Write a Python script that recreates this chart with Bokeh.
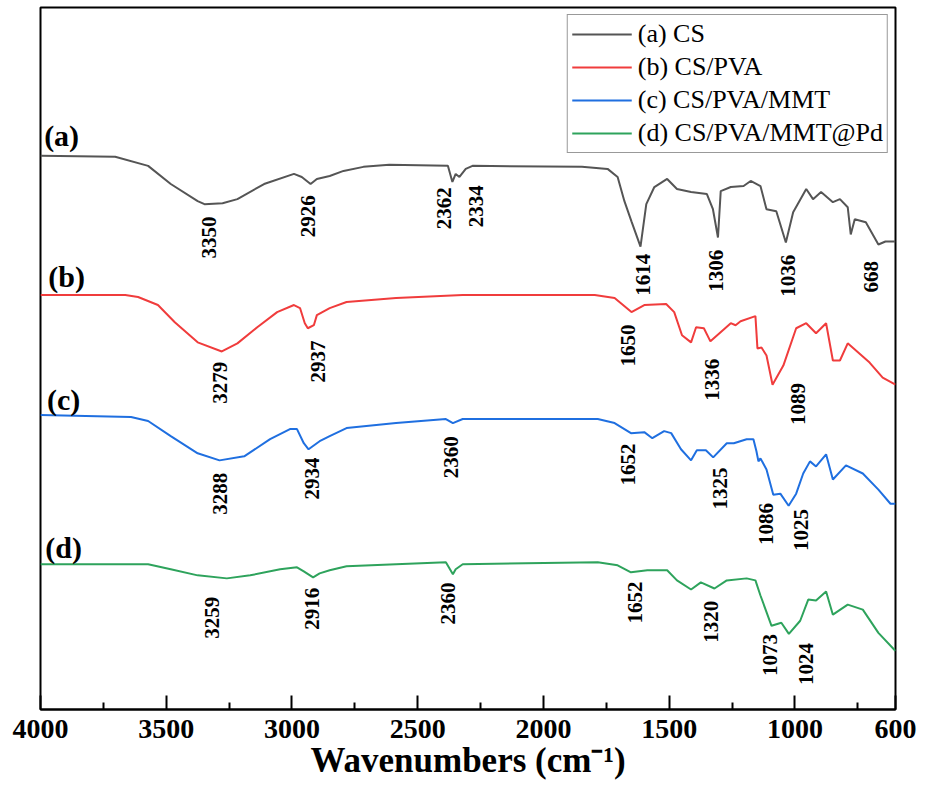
import numpy as np
from bokeh.plotting import figure
from bokeh.models import Range1d, FixedTicker, ColumnDataSource
from bokeh.core.properties import value
from bokeh.embed import file_html
from bokeh.resources import INLINE

# ---- data: wavenumber (cm-1) and offset transmittance (arb. units) ----
cs_wn = [4000, 3703, 3572, 3482, 3375, 3348, 3276, 3217, 3111, 2992, 2961, 2926, 2901, 2850, 2795,
         2716, 2613, 2380, 2362, 2349, 2334, 2309, 2282, 1847, 1745, 1705, 1678, 1650, 1614, 1591,
         1559, 1508, 1469, 1413, 1350, 1326, 1306, 1295, 1255, 1204, 1176, 1137, 1113, 1074, 1036,
         1007, 955, 928, 896, 849, 821, 790, 778, 762, 718, 668, 640, 600]
cs_t = [549, 548, 539, 521, 504, 501, 502, 506, 521, 531, 528, 521, 526, 529, 534,
        538, 540, 539, 523, 531, 528, 536, 539, 538, 536, 528, 504, 484, 459, 501,
        518, 526, 516, 513, 511, 496, 468, 514, 518, 519, 524, 519, 496, 494, 463,
        493, 516, 506, 513, 503, 506, 498, 471, 486, 483, 461, 464, 464]

pva_wn = [4000, 3663, 3612, 3533, 3466, 3375, 3279, 3217, 3138, 3059, 2992, 2968, 2949, 2937, 2913,
          2901, 2850, 2783, 2586, 2321, 1796, 1717, 1650, 1599, 1512, 1480, 1449, 1413, 1393, 1362,
          1336, 1255, 1236, 1216, 1157, 1149, 1133, 1113, 1089, 1046, 995, 955, 916, 876, 849,
          821, 790, 703, 651, 600]
pva_t = [411, 411, 409, 401, 384, 364, 355, 363, 379, 394, 401, 398, 383, 378, 381,
         391, 398, 404, 408, 411, 411, 408, 394, 401, 402, 394, 371, 364, 379, 378,
         365, 383, 381, 385, 390, 358, 359, 351, 322, 341, 378, 383, 373, 383, 346,
         346, 363, 344, 329, 322]

mmt_wn = [4000, 3640, 3572, 3482, 3375, 3288, 3190, 3087, 3008, 2980, 2953, 2934, 2890, 2850, 2783,
          2586, 2388, 2360, 2321, 1784, 1717, 1652, 1599, 1567, 1520, 1492, 1453, 1413, 1390, 1354,
          1325, 1271, 1243, 1192, 1165, 1153, 1145, 1137, 1113, 1086, 1058, 1025, 995, 967, 940,
          916, 876, 849, 797, 730, 668, 620, 600]
mmt_t = [292, 290, 286, 271, 254, 247, 251, 268, 278, 278, 264, 258, 266, 271, 279,
         284, 288, 284, 288, 288, 284, 274, 275, 269, 276, 274, 258, 247, 257, 257,
         250, 264, 264, 268, 268, 256, 246, 249, 238, 213, 214, 202, 214, 234, 246,
         241, 253, 228, 242, 234, 218, 204, 204]

pd_wn = [4000, 3572, 3482, 3375, 3259, 3166, 3047, 2980, 2953, 2916, 2890, 2850, 2783, 2586, 2388,
         2360, 2349, 2321, 1784, 1705, 1652, 1587, 1508, 1469, 1413, 1374, 1320, 1271, 1192, 1157,
         1137, 1093, 1054, 1024, 979, 947, 916, 876, 849, 790, 730, 668, 600]
pd_t = [144, 144, 139, 133, 130, 133, 139, 141, 137, 131, 135, 138, 142, 144, 146,
        134, 139, 144, 146, 143, 136, 138, 138, 128, 119, 126, 120, 128, 130, 128,
        113, 83, 86, 75, 88, 109, 108, 117, 94, 104, 99, 76, 58]

series_names = ["(a) CS", "(b) CS/PVA", "(c) CS/PVA/MMT", "(d) CS/PVA/MMT@Pd"]

# peak annotations
peak_text = ["3350", "2926", "2362", "2334", "1614", "1306", "1036", "668",
             "3279", "2937", "1650", "1336", "1089",
             "3288", "2934", "2360", "1652", "1325", "1086", "1025",
             "3259", "2916", "2360", "1652", "1320", "1073", "1024"]
peak_x = [3328, 2937, 2396, 2270, 1603, 1315, 1026, 699,
          3288, 2897, 1662, 1330, 987,
          3288, 2921, 2369, 1662, 1299, 1113, 975,
          3320, 2921, 2380, 1634, 1334, 1101, 955]
peak_y = [468, 489, 497, 499, 431, 435, 430, 429,
          324, 345, 361, 327, 303,
          214, 229, 250, 243, 219, 184, 178,
          91, 100, 105, 106, 87, 54, 45]

tag_text = ["(a)", "(b)", "(c)", "(d)"]
tag_x = [3916, 3896, 3908, 3908]
tag_y = [569, 429, 307, 161]

major_ticks = [4000, 3500, 3000, 2500, 2000, 1500, 1000, 600]
minor_ticks = [3750, 3250, 2750, 2250, 1750, 1250, 750]

colors = ["#555555", "#f03c3c", "#1f6fe0", "#2ea35c"]
serif = value("Liberation Serif")

p = figure(width=918, height=782, output_backend="svg", toolbar_location=None,
           x_range=Range1d(4000, 600), y_range=Range1d(0, 696),
           min_border_left=40, min_border_right=23, min_border_top=7, min_border_bottom=72)

for wn, t, c, name in zip([cs_wn, pva_wn, mmt_wn, pd_wn], [cs_t, pva_t, mmt_t, pd_t], colors, series_names):
    p.line(wn, t, line_color=c, line_width=2, legend_label=name)

psrc = ColumnDataSource(dict(x=peak_x, y=peak_y, text=peak_text))
p.text(x="x", y="y", text="text", source=psrc, angle=np.pi / 2,
       text_font=serif, text_font_style="bold", text_font_size="21px",
       text_align="center", text_baseline="middle", text_color="black")

tsrc = ColumnDataSource(dict(x=tag_x, y=tag_y, text=tag_text))
p.text(x="x", y="y", text="text", source=tsrc,
       text_font=serif, text_font_style="bold", text_font_size="30px",
       text_align="center", text_baseline="middle", text_color="black")

p.grid.visible = False
p.yaxis.visible = False
p.outline_line_color = "black"
p.outline_line_width = 2
p.outline_line_alpha = 1

ax = p.xaxis[0]
ax.ticker = FixedTicker(ticks=major_ticks, minor_ticks=minor_ticks)
ax.axis_line_width = 2
ax.axis_line_color = "black"
ax.major_tick_in = 14
ax.major_tick_out = 0
ax.minor_tick_in = 7
ax.minor_tick_out = 0
ax.major_tick_line_width = 2
ax.minor_tick_line_width = 2
ax.major_label_text_font = "Liberation Serif"
ax.major_label_text_font_style = "bold"
ax.major_label_text_font_size = "28px"
ax.major_label_text_color = "black"
ax.major_label_standoff = 10
ax.axis_label = "Wavenumbers (cm⁻¹)"
ax.axis_label_text_font = "Liberation Serif"
ax.axis_label_text_font_style = "bold"
ax.axis_label_text_font_size = "35px"
ax.axis_label_text_color = "black"
ax.axis_label_standoff = 0

lg = p.legend[0]
lg.location = "top_right"
lg.margin = 7
lg.padding = 4
lg.spacing = 3
lg.glyph_width = 60
lg.label_standoff = 6
lg.label_text_font = "Liberation Serif"
lg.label_text_font_size = "26px"
lg.label_text_color = "black"
lg.border_line_color = "#333333"
lg.border_line_width = 1.5
lg.background_fill_alpha = 1

open("out.html", "w").write(file_html(p, INLINE))
